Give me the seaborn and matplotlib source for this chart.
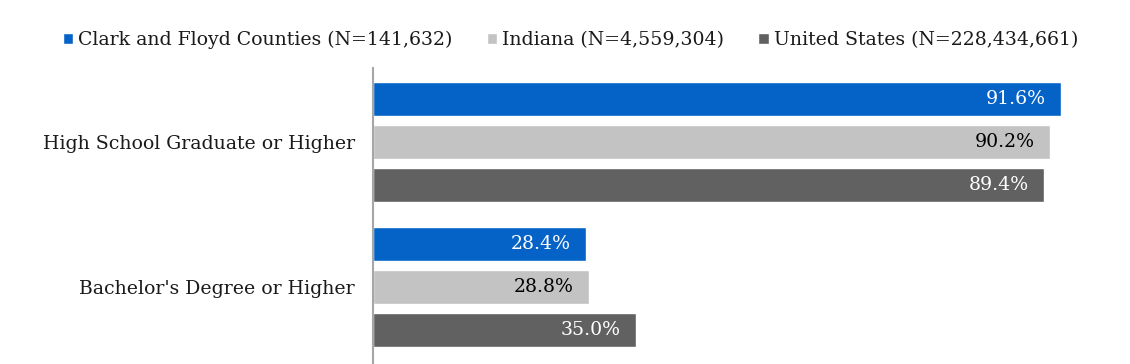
import pandas as pd
import matplotlib
matplotlib.use("Agg")
import matplotlib.pyplot as plt
import seaborn as sns

# ── Data ────────────────────────────────────────────────────────────────────
categories = ["High School Graduate or Higher", "Bachelor's Degree or Higher"]
regions = ["Clark and Floyd Counties (N=141,632)",
           "Indiana (N=4,559,304)",
           "United States (N=228,434,661)"]
clark_floyd = [91.6, 28.4]
indiana = [90.2, 28.8]
united_states = [89.4, 35.0]

colors = ["#0563C8", "#C3C3C3", "#616161"]
label_colors = ["white", "black", "white"]

df = pd.DataFrame({
    "category": categories * 3,
    "region": [r for r in regions for _ in categories],
    "pct": clark_floyd + indiana + united_states,
})

sns.set_style("white")
plt.rcParams["font.family"] = ["DejaVu Serif"]
FS = 13.6

fig = plt.figure(figsize=(11.3, 3.64), dpi=100)
ax = fig.add_axes([373 / 1130, 0.0, (1124 - 373) / 1130, (364 - 68) / 364])

sns.barplot(data=df, y="category", x="pct", hue="region", orient="h",
            palette=colors, saturation=1, width=0.89, gap=0.21, ax=ax,
            legend=True)

ax.set_xlim(0, 100)
ax.set_ylim(1.531, -0.510)
ax.set_xlabel("")
ax.set_ylabel("")
ax.set_xticks([])
ax.tick_params(axis="y", length=0, pad=13, labelsize=FS, labelcolor="#1a1a1a")
for side in ["top", "right", "bottom"]:
    ax.spines[side].set_visible(False)
ax.spines["left"].set_color("#A6A6A6")
ax.spines["left"].set_linewidth(1.5)

# value labels inside bar ends
for container, tc in zip(ax.containers, label_colors):
    for p in container:
        w = p.get_width()
        ax.annotate(f"{w:.1f}%", (w, p.get_y() + p.get_height() / 2),
                    xytext=(-11, 0), textcoords="offset points",
                    ha="right", va="center", fontsize=FS, color=tc)

handles, labels = ax.get_legend_handles_labels()
ax.legend_.remove()
fig.legend(handles, labels, loc="center", bbox_to_anchor=(0.505, 1 - 40 / 364),
           ncol=3, frameon=False, fontsize=FS, handlelength=0.55,
           handleheight=0.55, handletextpad=0.28, columnspacing=1.8,
           labelcolor="#1a1a1a")

plt.savefig("out.png", dpi=100)
